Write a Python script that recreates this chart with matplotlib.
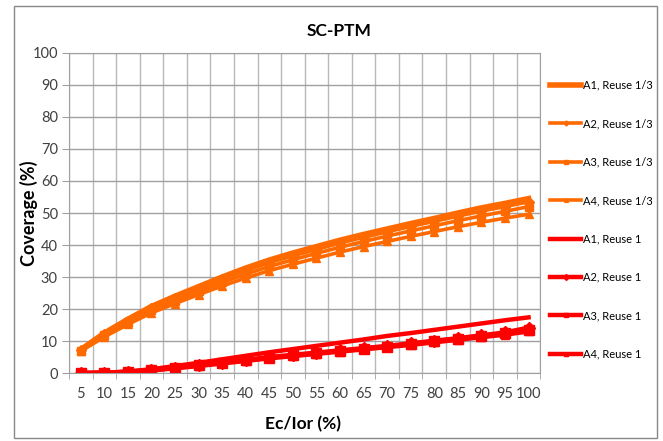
import matplotlib
matplotlib.use("Agg")
import matplotlib.pyplot as plt
from matplotlib.patches import Rectangle
import numpy as np

plt.rcParams['font.family'] = ['Lato', 'DejaVu Sans']

ec_ior = [5, 10, 15, 20, 25, 30, 35, 40, 45, 50, 55, 60, 65, 70, 75, 80, 85, 90, 95, 100]

# coverage (%) for reuse 1/3
a1_r13 = [7.3, 12.5, 16.8, 20.8, 24.0, 27.0, 30.0, 32.8, 35.3, 37.5, 39.5, 41.5, 43.3, 45.0, 46.7, 48.3, 50.0, 51.6, 53.0, 54.5]
a2_r13 = [7.1, 12.2, 16.4, 20.3, 23.4, 26.4, 29.3, 32.0, 34.5, 36.6, 38.6, 40.6, 42.4, 44.1, 45.8, 47.4, 49.0, 50.6, 52.0, 53.5]
a3_r13 = [7.0, 11.8, 15.8, 19.6, 22.6, 25.5, 28.3, 30.9, 33.3, 35.4, 37.4, 39.3, 41.1, 42.8, 44.4, 46.0, 47.6, 49.1, 50.5, 52.0]
a4_r13 = [6.8, 11.3, 15.2, 18.8, 21.7, 24.5, 27.2, 29.7, 32.0, 34.0, 35.9, 37.8, 39.5, 41.1, 42.7, 44.2, 45.7, 47.1, 48.4, 49.6]

# coverage (%) for reuse 1
a1_r1 = [0.0, 0.1, 0.5, 1.2, 2.2, 3.2, 4.3, 5.4, 6.5, 7.5, 8.5, 9.5, 10.5, 11.6, 12.5, 13.5, 14.5, 15.5, 16.5, 17.4]
a2_r1 = [0.0, 0.1, 0.4, 1.0, 1.7, 2.5, 3.3, 4.1, 5.0, 5.7, 6.4, 7.1, 7.8, 8.5, 9.3, 10.1, 10.9, 11.8, 12.7, 14.2]
a3_r1 = [0.0, 0.1, 0.4, 0.9, 1.6, 2.4, 3.2, 4.0, 4.8, 5.5, 6.2, 6.9, 7.6, 8.3, 9.1, 9.9, 10.7, 11.5, 12.4, 13.6]
a4_r1 = [0.0, 0.1, 0.3, 0.8, 1.5, 2.2, 3.0, 3.8, 4.6, 5.3, 6.0, 6.7, 7.4, 8.1, 8.8, 9.6, 10.4, 11.2, 12.0, 13.0]

orange = '#ff6a00'
red = '#ff0000'

series = [
    (a1_r13, 'A1, Reuse 1/3', orange, None, 4.0, 0),
    (a2_r13, 'A2, Reuse 1/3', orange, 'D', 2.6, 5),
    (a3_r13, 'A3, Reuse 1/3', orange, 's', 2.6, 5.5),
    (a4_r13, 'A4, Reuse 1/3', orange, '^', 2.6, 5.5),
    (a1_r1, 'A1, Reuse 1', red, None, 3.2, 0),
    (a2_r1, 'A2, Reuse 1', red, 'D', 3.2, 6),
    (a3_r1, 'A3, Reuse 1', red, 's', 3.2, 6.5),
    (a4_r1, 'A4, Reuse 1', red, '^', 3.2, 6),
]

fig = plt.figure(figsize=(6.63, 4.41), dpi=100)
ax = fig.add_axes([0.104, 0.154, 0.711, 0.726])

x = np.arange(len(ec_ior))
for vals, name, col, mk, lw, ms in series:
    ax.plot(x, vals, color=col, lw=lw, marker=mk, markersize=ms,
            markeredgecolor=col, markerfacecolor=col, label=name)

ax.set_xlim(-0.5, len(ec_ior) - 0.5)
ax.set_ylim(0, 100)
ax.set_yticks(range(0, 101, 10))
ax.set_xticks(x)
ax.set_xticklabels([str(v) for v in ec_ior])
ax.set_xticks(np.arange(-0.5, len(ec_ior)), minor=True)
ax.tick_params(axis='x', which='major', length=0, pad=10, labelsize=10.5, colors='#404040')
ax.tick_params(axis='x', which='minor', length=4, color='#a0a0a0')
ax.tick_params(axis='y', length=5, color='#a0a0a0', labelsize=10.5, labelcolor='#404040', pad=3)
ax.grid(True, axis='y', color='#a0a0a0', lw=1)
ax.grid(True, axis='x', which='minor', color='#b8b8b8', lw=1)
ax.set_axisbelow(True)
for s in ax.spines.values():
    s.set_color('#a0a0a0')

fig.text(0.512, 0.93, 'SC-PTM', ha='center', va='center', fontsize=12.5, fontweight='bold')
fig.text(0.043, 0.517, 'Coverage (%)', ha='center', va='center', rotation=90,
         fontsize=13, fontweight='bold')
fig.text(0.457, 0.038, 'Ec/Ior (%)', ha='center', va='center', fontsize=12.5, fontweight='bold')

fig.legend(loc='upper left', bbox_to_anchor=(0.815, 0.842), frameon=False,
           fontsize=8, handlelength=2.8, labelspacing=2.47, handletextpad=0.1,
           markerscale=0.5)

fig.patches.append(Rectangle((14 / 663, 3 / 441), 643 / 663, 432 / 441,
                             transform=fig.transFigure, fill=False,
                             edgecolor='#888888', lw=1))

fig.savefig('out.png', dpi=100)
